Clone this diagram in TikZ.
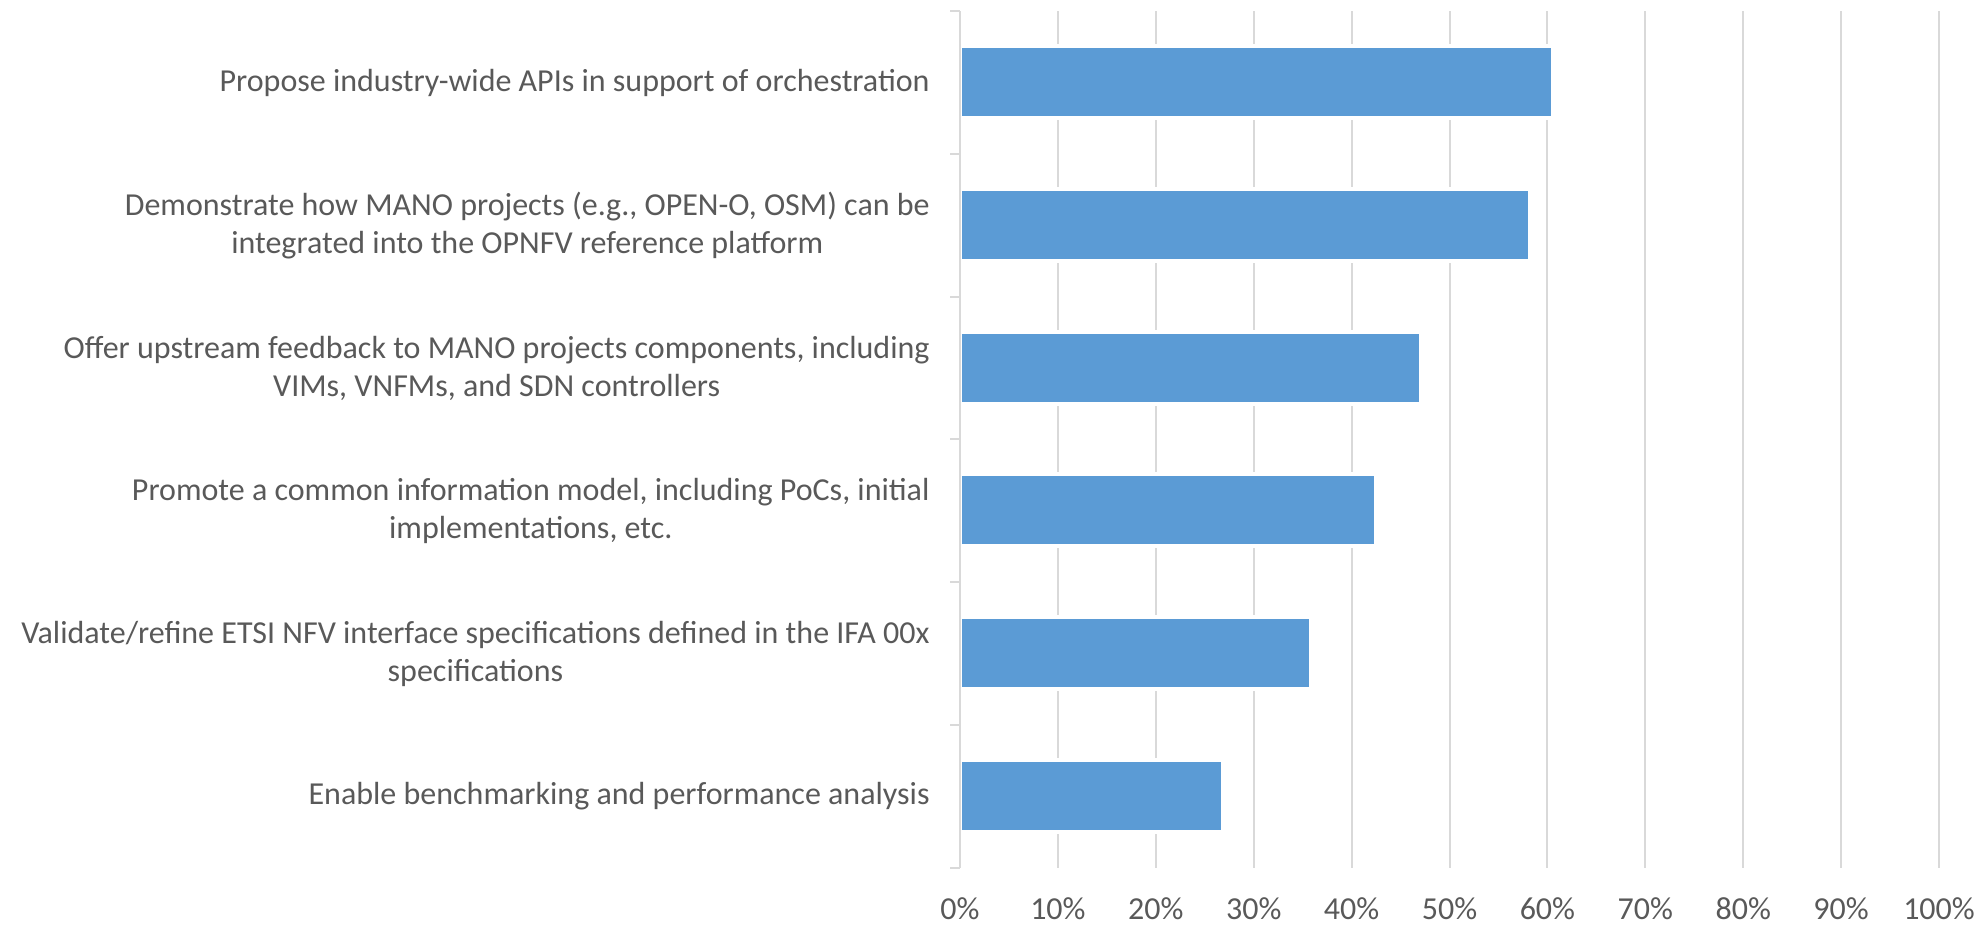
\documentclass[tikz,border=0pt]{standalone}
\usepackage{fontspec}
\setmainfont{Carlito}
\definecolor{txt}{HTML}{595959}
\definecolor{grid}{HTML}{D9D9D9}
\definecolor{bar}{HTML}{5B9BD5}
\begin{document}
\begin{tikzpicture}[x=0.5pt,y=-0.5pt,
  catlabel/.style={anchor=east,align=center,text=txt,inner sep=0pt,font=\fontsize{16pt}{19pt}\selectfont},
  ticklabel/.style={anchor=center,text=txt,inner sep=0pt,font=\fontsize{16pt}{19pt}\selectfont},
  gridline/.style={draw=grid,line width=1pt},
  barpad/.style={fill=white},
  barfill/.style={fill=bar}]
\useasboundingbox (0,0) rectangle (1977,926);
% gridlines
\foreach \i in {1,...,10}{
  \draw[gridline] ({960+97.9*\i},11) -- ({960+97.9*\i},868);
}
% bars
\foreach \k/\e in {0/1551,1/1528,2/1419,3/1374,4/1309,5/1221}{
  \fill[barpad] (956,{11+142.8*\k+33}) rectangle ({\e+4},{11+142.8*\k+109});
  \fill[barfill] (962,{11+142.8*\k+37}) rectangle (\e,{11+142.8*\k+105});
}
% axis
\draw[gridline] (960,11) -- (960,868);
\foreach \k in {0,...,6}{
  \draw[gridline] (950,{11+142.8*\k}) -- (960,{11+142.8*\k});
}
% category labels
\node[catlabel] (c1) at (930,{82.5+142.8*0}) {Propose industry-wide APIs in support of orchestration};
\node[catlabel] (c2) at (930,{82.5+142.8*1}) {Demonstrate how MANO projects (e.g., OPEN-O, OSM) can be\\integrated into the OPNFV reference platform};
\node[catlabel] (c3) at (930,{82.5+142.8*2}) {Offer upstream feedback to MANO projects components, including\\VIMs, VNFMs, and SDN controllers};
\node[catlabel] (c4) at (930,{82.5+142.8*3}) {Promote a common information model, including PoCs, initial\\implementations, etc.};
\node[catlabel] (c5) at (930,{82.5+142.8*4}) {Validate/refine ETSI NFV interface specifications defined in the IFA 00x\\specifications};
\node[catlabel] (c6) at (930,{82.5+142.8*5}) {Enable benchmarking and performance analysis};
% tick labels
\foreach \i in {0,...,10}{
  \node[ticklabel] (t\i) at ({960+97.9*\i},909) {\pgfmathparse{int(10*\i)}\pgfmathresult\%};
}
\end{tikzpicture}
\end{document}
